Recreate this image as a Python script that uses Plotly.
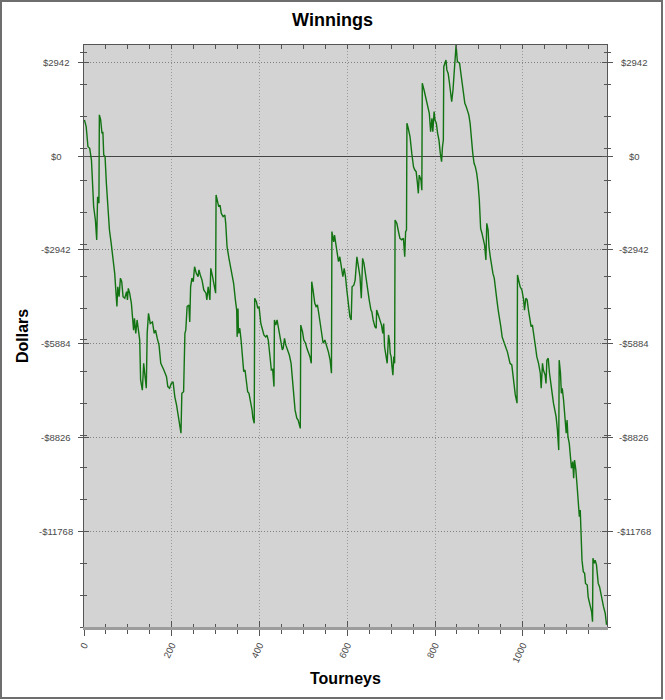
import plotly.graph_objects as go

# cumulative winnings
tourneys = [
    1, 5, 9, 13, 17, 20, 22, 26, 29, 31,
    34, 35, 38, 41, 43, 45, 48, 51, 55, 58,
    62, 66, 70, 74, 75, 77, 80, 83, 86, 89,
    93, 97, 99, 101, 104, 108, 112, 113, 115, 118,
    121, 124, 127, 129, 133, 136, 139, 142, 144, 147,
    151, 156, 160, 163, 167, 171, 175, 179, 182, 188,
    191, 195, 199, 203, 207, 211, 214, 218, 221, 223,
    227, 230, 232, 235, 239, 241, 243, 246, 249, 252,
    256, 260, 262, 265, 269, 273, 278, 280, 283, 287,
    289, 293, 296, 300, 301, 307, 310, 313, 317, 321,
    323, 326, 331, 335, 338, 341, 345, 348, 349, 351,
    352, 355, 358, 361, 364, 367, 369, 373, 376, 380,
    383, 385, 388, 389, 393, 396, 399, 401, 403, 406,
    410, 414, 417, 420, 424, 427, 430, 433, 434, 437,
    440, 443, 446, 449, 452, 454, 457, 460, 464, 468,
    472, 475, 478, 481, 485, 488, 490, 493, 494, 498,
    501, 505, 508, 512, 515, 518, 519, 522, 526, 529,
    532, 535, 538, 542, 545, 549, 553, 557, 561, 564,
    565, 569, 571, 574, 577, 580, 583, 587, 590, 593,
    596, 599, 602, 606, 609, 611, 615, 618, 622, 625,
    629, 632, 635, 638, 642, 646, 650, 654, 656, 659,
    663, 666, 667, 671, 675, 678, 681, 683, 685, 688,
    691, 694, 696, 698, 700, 702, 704, 706, 708, 709,
    713, 716, 720, 724, 728, 731, 733, 735, 736, 739,
    743, 747, 751, 754, 757, 760, 762, 764, 768, 770,
    771, 775, 778, 781, 784, 787, 790, 793, 795, 798,
    800, 803, 806, 809, 812, 815, 817, 819, 820, 825,
    827, 830, 833, 836, 838, 841, 844, 847, 848, 851,
    856, 859, 862, 865, 868, 871, 874, 877, 880, 883,
    886, 889, 892, 895, 898, 901, 904, 907, 910, 913,
    916, 918, 921, 923, 926, 929, 932, 935, 938, 941,
    944, 947, 950, 953, 956, 959, 962, 965, 968, 971,
    975, 979, 983, 987, 988, 994, 998, 1002, 1004, 1007,
    1010, 1013, 1017, 1019, 1022, 1025, 1029, 1032, 1036, 1040,
    1042, 1045, 1047, 1051, 1053, 1055, 1058, 1061, 1064, 1067,
    1070, 1073, 1076, 1079, 1082, 1083, 1086, 1088, 1090, 1093,
    1096, 1099, 1101, 1103, 1106, 1109, 1111, 1114, 1116, 1118,
    1121, 1124, 1127, 1129, 1131, 1134, 1135, 1138, 1141, 1143,
    1147, 1149, 1152, 1154, 1157, 1159, 1160, 1163, 1165, 1168,
    1170, 1172, 1175, 1178, 1181, 1184, 1188, 1191,
]
dollars = [
    1130, 920, 290, 240, -130, -960, -1590, -2010, -2630, -1280,
    -1480, 1290, 1130, 710, 760, 30, -20, -860, -1800, -2320,
    -2740, -3160, -3680, -4510, -4720, -4100, -4410, -3830, -3940, -4410,
    -4460, -4250, -4510, -4150, -4300, -4620, -5140, -5460, -5090, -5560,
    -5140, -5460, -5770, -7020, -7340, -6500, -6920, -7280, -5560, -4930,
    -5250, -5200, -5560, -5460, -5720, -5930, -6500, -6660, -6710, -6920,
    -7230, -7280, -7130, -7080, -7550, -7810, -8070, -8380, -8690, -7440,
    -7390, -5560, -5460, -4720, -4670, -5200, -4100, -3830, -3940, -3470,
    -3680, -3780, -3570, -3730, -3890, -4200, -4300, -4510, -4100, -4510,
    -3520, -3780, -3990, -4300, -1220, -1590, -1540, -1800, -1900, -1850,
    -2110, -2840, -3260, -3520, -3680, -3990, -4510, -4830, -5670, -4780,
    -5560, -5400, -5770, -6290, -6760, -6710, -7020, -7390, -7440, -7700,
    -7960, -8220, -8380, -4460, -4570, -4780, -4720, -4990, -5250, -5400,
    -5610, -5670, -5620, -5770, -6290, -6710, -6690, -7230, -5140, -5300,
    -5140, -5350, -5560, -5870, -6080, -6030, -5720, -5930, -6080, -6240,
    -6500, -6920, -7340, -7960, -8220, -8280, -8380, -8540, -5300, -5510,
    -5770, -5870, -6030, -6190, -6290, -6500, -3940, -4200, -4620, -4720,
    -4670, -4930, -5250, -5670, -5870, -5770, -5930, -6140, -6400, -6810,
    -2370, -2690, -2480, -2740, -3000, -3310, -3160, -3470, -3780, -3520,
    -3780, -4200, -4510, -5040, -5140, -4100, -4050, -3890, -3160, -3470,
    -3780, -4460, -3210, -3360, -3780, -4200, -4510, -4830, -4880, -5140,
    -5350, -5400, -4830, -4990, -5200, -5300, -5560, -5250, -5980, -6240,
    -6500, -5610, -5770, -6190, -6290, -6610, -6870, -6290, -6500, -2010,
    -2110, -2320, -2580, -2630, -2580, -3160, -2370, -2320, 1030, 870,
    610, 90, -340, -440, -490, -860, -1170, -600, -750, -1070,
    2280, 2070, 1860, 1650, 1440, 1340, 760, 1180, 760, 1390,
    1130, 1030, 710, 500, 90, -180, 290, 500, 2800, 3010,
    2700, 2590, 2280, 1970, 1700, 2070, 2590, 3220, 3480, 2960,
    2910, 2590, 2280, 1970, 1650, 1550, 1440, 1290, 1030, 400,
    90, -230, -340, -540, -860, -1380, -2270, -2420, -2630, -2790,
    -3260, -2110, -2320, -2840, -3160, -3470, -3680, -3830, -4100, -4510,
    -4830, -5040, -5350, -5670, -5770, -5930, -6030, -6140, -6290, -6500,
    -6550, -7130, -7490, -7750, -3730, -4100, -4200, -4510, -4830, -4460,
    -4510, -4830, -5200, -5350, -5300, -5670, -5980, -6290, -6500, -6810,
    -7280, -6500, -6710, -6870, -7130, -6400, -6340, -6810, -7230, -7440,
    -7750, -7960, -8170, -8590, -9220, -6400, -6810, -7440, -7280, -7650,
    -8070, -8690, -8280, -8800, -9010, -9530, -9790, -9580, -10100, -9530,
    -9840, -10370, -10890, -11310, -11100, -12140, -12670, -13030, -13080, -13400,
    -13450, -13820, -14020, -14180, -14290, -14600, -12610, -12770, -12670, -12820,
    -13140, -13400, -13500, -13710, -14020, -14130, -14340, -14700,
]
assert len(tourneys) == len(dollars)

# axis setup
x_max = 1192
y_min, y_max = -14766, 3480
y_step = 2942
y_ticks = [y_step * k for k in range(1, -5, -1)]
y_labels = [("-$%d" % -v) if v < 0 else "$%d" % v for v in y_ticks]
y_minor = [y_min + 1000 * k for k in range(19) if y_min + 1000 * k <= y_max]
x_ticks = list(range(0, 1001, 200))

W, H = 665, 700
ml, mr, mt, mb = 84, 58, 45, 73
pw, ph = W - ml - mr, H - mt - mb

tick_col = '#555'
tick_font = dict(family='Liberation Sans, Arial', size=9.5, color='#4a4a4a')
dots = '1px,2px'

fig = go.Figure()
fig.add_trace(go.Scatter(x=tourneys, y=dollars, mode='lines',
                         line=dict(color='#127312', width=1.4),
                         hoverinfo='skip', showlegend=False))
# invisible copies so the extra tick axes (top, right, inner) get drawn
for xa, ya in [('x2', 'y2'), ('x3', 'y3'), ('x3', 'y4')]:
    fig.add_trace(go.Scatter(x=tourneys, y=dollars, mode='lines', xaxis=xa, yaxis=ya,
                             line=dict(width=0), opacity=0, hoverinfo='skip',
                             showlegend=False))


def x_ticks_axis(side, ticks, major_len, minor_len, **kw):
    ax = dict(range=[0, x_max], side=side, tickmode='array', tickvals=x_ticks,
              ticks=ticks, ticklen=major_len, tickcolor=tick_col,
              minor=dict(dtick=50, tick0=0, ticks=ticks, ticklen=minor_len,
                         tickcolor=tick_col),
              zeroline=False)
    ax.update(kw)
    return ax


def y_ticks_axis(side, ticks, major_len, minor_len, **kw):
    ax = dict(range=[y_min, y_max], side=side, tickmode='array', tickvals=y_ticks,
              showticklabels=False, ticks=ticks, ticklen=major_len, tickcolor=tick_col,
              minor=dict(tickvals=y_minor, ticks=ticks, ticklen=minor_len,
                         tickcolor=tick_col),
              zeroline=False)
    ax.update(kw)
    return ax


# y tick labels are centred in the reference, so they go in as annotations
label_notes = []
for v, lab in zip(y_ticks, y_labels):
    for xpos in [(56 - ml) / pw, (634 - ml) / pw]:
        label_notes.append(dict(text=lab, xref='paper', yref='y', x=xpos, y=v,
                                showarrow=False, xanchor='center', yanchor='middle',
                                font=tick_font))

fig.update_layout(
    width=W, height=H,
    margin=dict(l=ml, r=mr, t=mt, b=mb),
    paper_bgcolor='white',
    plot_bgcolor='#d3d3d3',
    font=dict(family='Liberation Sans, Arial', color='#000'),
    title=dict(text='<b>Winnings</b>', x=0.5, xref='container', y=1 - 20 / H,
               yref='container', yanchor='middle', font=dict(size=18, color='#000')),
    xaxis=x_ticks_axis('bottom', 'outside', 6, 4,
                       ticktext=[str(v) for v in x_ticks], tickangle=-65,
                       tickfont=tick_font,
                       showgrid=True, gridcolor='#9a9a9a', griddash=dots, gridwidth=1,
                       showline=True, linecolor='#9c9c9c', linewidth=3),
    xaxis2=x_ticks_axis('top', 'inside', 4, 4, overlaying='x', showticklabels=False,
                        showgrid=False, showline=True, linecolor='#555', linewidth=1),
    xaxis3=x_ticks_axis('bottom', 'inside', 6, 3, overlaying='x', showticklabels=False,
                        showgrid=False, showline=False),
    yaxis=y_ticks_axis('left', 'outside', 5, 3,
                       showgrid=True, gridcolor='#808080', griddash=dots, gridwidth=1,
                       zeroline=True, zerolinecolor='#444', zerolinewidth=1,
                       showline=True, linecolor='#555', linewidth=1),
    yaxis2=y_ticks_axis('right', 'outside', 5, 3, overlaying='y',
                        showgrid=False, showline=True, linecolor='#555', linewidth=1),
    yaxis3=y_ticks_axis('left', 'inside', 5, 3, overlaying='y',
                        showgrid=False, showline=False),
    yaxis4=y_ticks_axis('right', 'inside', 5, 3, overlaying='y',
                        showgrid=False, showline=False),
    annotations=label_notes + [
        dict(text='<b>Tourneys</b>', xref='paper', yref='paper', x=0.5, y=-51 / ph,
             showarrow=False, xanchor='center', yanchor='middle', font=dict(size=16)),
        dict(text='<b>Dollars</b>', xref='paper', yref='paper', x=-62 / pw, y=0.5,
             showarrow=False, textangle=-90, xanchor='center', yanchor='middle',
             font=dict(size=16)),
    ],
    shapes=[
        # thin frame round the whole picture
        dict(type='rect', xref='paper', yref='paper',
             x0=(1 - ml) / pw, x1=(662 - ml) / pw,
             y0=-(mb - 2) / ph, y1=1 + (mt - 1) / ph,
             line=dict(color='#6e6e6e', width=2), layer='above'),
    ],
)

# the page body has an 8px default margin; drop it so the figure sits at 0,0
fig.write_html("out.html", config={'displayModeBar': False},
               post_script="document.body.style.margin='0';")
